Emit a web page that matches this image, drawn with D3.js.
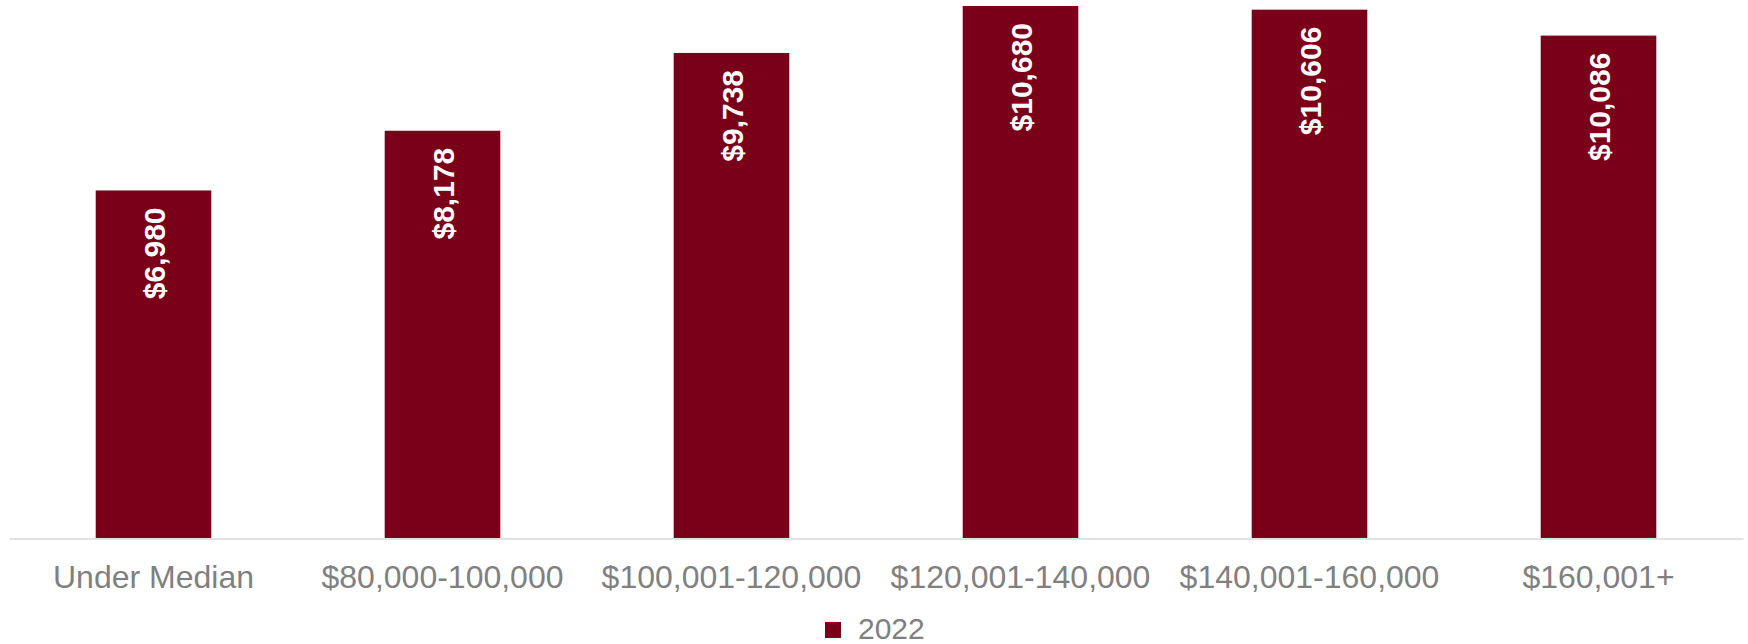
<!DOCTYPE html>
<html>
<head>
<meta charset="utf-8">
<script src="https://cdn.jsdelivr.net/npm/d3@7"></script>
<style>
  html, body { margin: 0; padding: 0; background: #fff; }
  svg { display: block; font-family: "Liberation Sans", Arial, sans-serif; }
</style>
</head>
<body>
<div id="chart"></div>
<script>
const categories = ["Under Median", "$80,000-100,000", "$100,001-120,000", "$120,001-140,000", "$140,001-160,000", "$160,001+"];
const values2022 = [6980, 8178, 9738, 10680, 10606, 10086];
const seriesName = "2022";

const props = {
  width: 1748,
  height: 644,
  left: 9,
  right: 5,
  baseline: 538.5,
  barColor: "#7a001a",
  axisColor: "#e2e2e2",
  textColor: "#808080"
};

const svg = d3.select("#chart").append("svg")
  .attr("width", props.width)
  .attr("height", props.height);

const data = categories.map((c, i) => ({ cat: c, value: values2022[i] }));

// set the ranges
const x = d3.scaleBand()
  .domain(categories)
  .range([props.left, props.width - props.right])
  .paddingInner(0.6)
  .paddingOuter(0.3);

const y = d3.scaleLinear()
  .domain([0, 10800])
  .range([props.baseline, 0]);

// bars
svg.selectAll(".bar")
    .data(data)
  .enter().append("rect")
    .attr("class", "bar")
    .attr("x", d => x(d.cat))
    .attr("width", x.bandwidth())
    .attr("y", d => y(d.value))
    .attr("height", d => y(0) - y(d.value))
    .style("fill", props.barColor);

// baseline axis
const xAxis = d3.axisBottom(x).tickSize(0).tickPadding(27);
const axisG = svg.append("g")
  .attr("transform", `translate(0,${props.baseline})`)
  .call(xAxis);
axisG.select(".domain")
  .attr("stroke", props.axisColor)
  .attr("stroke-width", 2);
axisG.selectAll("text")
  .style("font-size", "32px")
  .style("font-family", "'Liberation Sans', Arial, sans-serif")
  .attr("fill", props.textColor);

// value labels, rotated inside the bars
const fmt = d3.format("$,");
svg.selectAll(".label")
    .data(data)
  .enter().append("text")
    .attr("class", "label")
    .attr("transform", d => `translate(${x(d.cat) + x.bandwidth() / 2 + 11},${y(d.value) + 17}) rotate(-90)`)
    .style("text-anchor", "end")
    .style("font-size", "30px")
    .style("font-weight", "bold")
    .attr("fill", "#fff")
    .text(d => fmt(d.value));

// legend
const legend = svg.append("g")
  .attr("transform", "translate(825,622)");
legend.append("rect")
  .attr("width", 16)
  .attr("height", 16)
  .style("fill", props.barColor);
legend.append("text")
  .attr("x", 33)
  .attr("y", 17)
  .style("font-size", "30px")
  .attr("fill", props.textColor)
  .text(seriesName);
</script>
</body>
</html>
